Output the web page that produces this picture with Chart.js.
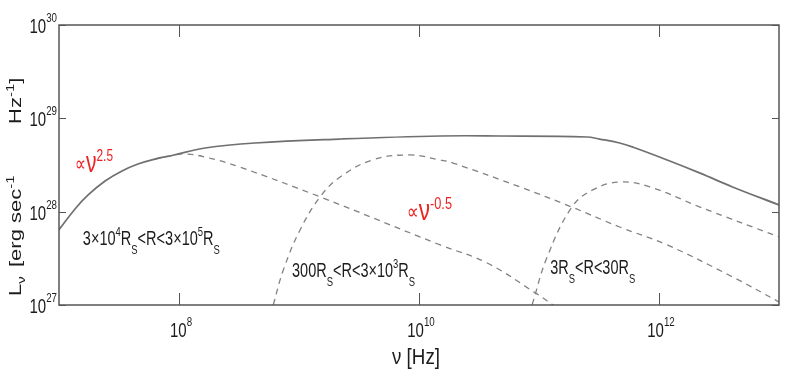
<!DOCTYPE html>
<html>
<head>
<meta charset="utf-8">
<script src="https://cdn.jsdelivr.net/npm/chart.js@4.4.1/dist/chart.umd.min.js"></script>
<style>
html, body { margin: 0; padding: 0; background: #fff; }
#wrap { width: 789px; height: 374px; position: relative; }
</style>
</head>
<body>
<div id="wrap"><canvas id="c"></canvas></div>
<script>
// total spectrum (solid line)
var totalNu = [1e7, 1.36e7, 1.75e7, 2.42e7, 3.35e7, 4.55e7, 6.3e7, 8.75e7, 1.65e8, 4.3e8, 2.2e9, 1.5e10, 4.7e10, 2.5e11, 3.2e11, 4.7e11, 6.1e11, 1.17e12, 2.2e12, 4.1e12, 1e13];
var totalL  = [6.4e27, 1.07e28, 1.51e28, 2.13e28, 2.73e28, 3.24e28, 3.66e28, 4.0e28, 4.81e28, 5.44e28, 6.0e28, 6.47e28, 6.47e28, 6.31e28, 6.0e28, 5.44e28, 4.9e28, 3.58e28, 2.59e28, 1.84e28, 1.18e28];

// 3x10^4 Rs < R < 3x10^5 Rs
var outerNu = [6.3e7, 8.75e7, 1.12e8, 1.65e8, 3.2e8, 1.5e9, 1.5e10, 3.7e10, 9.3e10, 1.31e11];
var outerL  = [3.66e28, 4.0e28, 4.15e28, 3.85e28, 3.01e28, 1.44e28, 4.4e27, 2.82e27, 1.35e27, 1.0e27];

// 300 Rs < R < 3x10^3 Rs
var midNu = [6.1e8, 7.4e8, 1.02e9, 1.5e9, 2.2e9, 4.1e9, 8.4e9, 1.5e10, 1.92e10, 6.95e10, 1.88e11, 4.7e11, 1.17e12, 4.1e12, 1e13];
var midL  = [1.0e27, 2.37e27, 6.37e27, 1.44e28, 2.35e28, 3.58e28, 4.05e28, 3.58e28, 3.32e28, 1.84e28, 1.12e28, 6.85e27, 4.4e27, 2.0e27, 1.08e27];

// 3 Rs < R < 30 Rs
var innerNu = [8.75e10, 1.17e11, 1.88e11, 2.8e11, 4.7e11, 8.4e11, 2.2e12, 1e13];
var innerL  = [1.0e27, 3.27e27, 1.12e28, 1.71e28, 2.08e28, 1.84e28, 1.12e28, 5.36e27];

var xTicks = [1e8, 1e10, 1e12];
var xTickExp = ['8', '10', '12'];
var yTicks = [1e27, 1e28, 1e29, 1e30];
var yTickExp = ['27', '28', '29', '30'];

var FONT = '"Liberation Sans", Arial, "DejaVu Sans", sans-serif';

function pts(xs, ys) {
  return xs.map(function (x, i) { return {x: x, y: ys[i]}; });
}

// draws a run of text pieces; each piece has its own size and baseline shift
function drawRich(ctx, parts, x, y, o) {
  var w = 0;
  parts.forEach(function (p) {
    ctx.font = p.size + 'px ' + FONT;
    w += ctx.measureText(p.t).width;
  });
  var sx = o.width ? o.width / w : (o.sx || 1);
  ctx.save();
  ctx.translate(x, y);
  if (o.rotate) ctx.rotate(o.rotate);
  ctx.scale(sx, o.sy || 1);
  var cx = o.align === 'center' ? -w / 2 : (o.align === 'right' ? -w : 0);
  ctx.fillStyle = o.color || '#1c1c1c';
  ctx.textAlign = 'left';
  ctx.textBaseline = 'alphabetic';
  parts.forEach(function (p) {
    ctx.font = p.size + 'px ' + FONT;
    ctx.fillText(p.t, cx, p.dy || 0);
    cx += ctx.measureText(p.t).width;
  });
  ctx.restore();
}

function regionLabel(pieces) {
  // pieces: strings, '^x' for superscript, '_x' for subscript
  return pieces.map(function (s) {
    if (s[0] === '^') return {t: s.slice(1), size: 13, dy: -9};
    if (s[0] === '_') return {t: s.slice(1), size: 13, dy: 9};
    return {t: s, size: 20};
  });
}

var labels = [
  {parts: [{t: '\u221D', size: 22, dy: -1}, {t: '\u03BD', size: 30}, {t: '2.5', size: 17, dy: -11}], nu: 1.36e7, L: 2.65e28, width: 38, color: '#ee2222'},
  {parts: [{t: '\u221D', size: 22, dy: -1}, {t: '\u03BD', size: 30}, {t: '-0.5', size: 17, dy: -11}], nu: 7.94e9, L: 8.2e27, width: 45, color: '#ee2222'},
  {parts: regionLabel(['3\u00D710', '^4', 'R', '_S', '<R<3\u00D710', '^5', 'R', '_S']), nu: 1.58e7, L: 4.4e27, width: 137},
  {parts: regionLabel(['300R', '_S', '<R<3\u00D710', '^3', 'R', '_S']), nu: 8.75e8, L: 2.0e27, width: 123},
  {parts: regionLabel(['3R', '_S', '<R<30R', '_S']), nu: 1.24e11, L: 2.15e27, width: 85}
];

var decor = {
  id: 'decor',
  afterDraw: function (chart) {
    var ctx = chart.ctx, a = chart.chartArea;
    var xs = chart.scales.x, ys = chart.scales.y;
    ctx.save();
    ctx.strokeStyle = '#555';
    ctx.lineWidth = 1.5;
    ctx.strokeRect(a.left, a.top, a.right - a.left, a.bottom - a.top);
    ctx.beginPath();
    xTicks.forEach(function (v) {
      var px = Math.round(xs.getPixelForValue(v)) + 0.5;
      ctx.moveTo(px, a.bottom); ctx.lineTo(px, a.bottom - 12);
      ctx.moveTo(px, a.top); ctx.lineTo(px, a.top + 12);
    });
    yTicks.forEach(function (v) {
      var py = Math.round(ys.getPixelForValue(v)) + 0.5;
      ctx.moveTo(a.left, py); ctx.lineTo(a.left + 7, py);
      ctx.moveTo(a.right, py); ctx.lineTo(a.right - 7, py);
    });
    ctx.lineWidth = 1;
    ctx.stroke();
    ctx.restore();

    xTicks.forEach(function (v, i) {
      drawRich(ctx, [{t: '10', size: 20}, {t: xTickExp[i], size: 13, dy: -11}],
        xs.getPixelForValue(v) + 2, a.bottom + 32, {align: 'center', sx: 0.75});
    });
    yTicks.forEach(function (v, i) {
      drawRich(ctx, [{t: '10', size: 20}, {t: yTickExp[i], size: 13, dy: -11}],
        a.left - 2, ys.getPixelForValue(v) + 8, {align: 'right', sx: 0.75});
    });

    // axis titles
    drawRich(ctx, [{t: '\u03BD [Hz]', size: 22}], (a.left + a.right) / 2 - 3, a.bottom + 59, {align: 'center', width: 48});
    var rot = -Math.PI / 2;
    drawRich(ctx, [{t: 'L', size: 22}, {t: '\u03BD', size: 15, dy: 5}], 21, 296, {rotate: rot, sy: 0.75});
    drawRich(ctx, [{t: '[erg sec', size: 22}, {t: '-1', size: 15, dy: -10}], 21, 267, {rotate: rot, sy: 0.75});
    drawRich(ctx, [{t: 'Hz', size: 22}, {t: '-1', size: 15, dy: -10}, {t: ']', size: 22}], 21, 124, {rotate: rot, sy: 0.75});

    labels.forEach(function (l) {
      drawRich(ctx, l.parts, xs.getPixelForValue(l.nu), ys.getPixelForValue(l.L), {width: l.width, color: l.color});
    });
  }
};

var dashed = {borderColor: '#828282', borderWidth: 1.3, borderDash: [6, 5]};

new Chart(document.getElementById('c'), {
  type: 'line',
  data: {
    datasets: [
      {label: 'total', data: pts(totalNu, totalL), borderColor: '#707070', borderWidth: 1.7},
      Object.assign({label: '3e4-3e5 Rs', data: pts(outerNu, outerL)}, dashed),
      Object.assign({label: '300-3e3 Rs', data: pts(midNu, midL)}, dashed),
      Object.assign({label: '3-30 Rs', data: pts(innerNu, innerL)}, dashed)
    ]
  },
  options: {
    responsive: true,
    maintainAspectRatio: false,
    animation: false,
    layout: {padding: {left: 59, top: 25, right: 10, bottom: 69}},
    elements: {
      point: {radius: 0},
      line: {tension: 0.4, fill: false}
    },
    plugins: {legend: {display: false}, tooltip: {enabled: false}},
    scales: {
      x: {type: 'logarithmic', min: 1e7, max: 1e13, display: false},
      y: {type: 'logarithmic', min: 1e27, max: 1e30, display: false}
    }
  },
  plugins: [decor]
});
</script>
</body>
</html>
